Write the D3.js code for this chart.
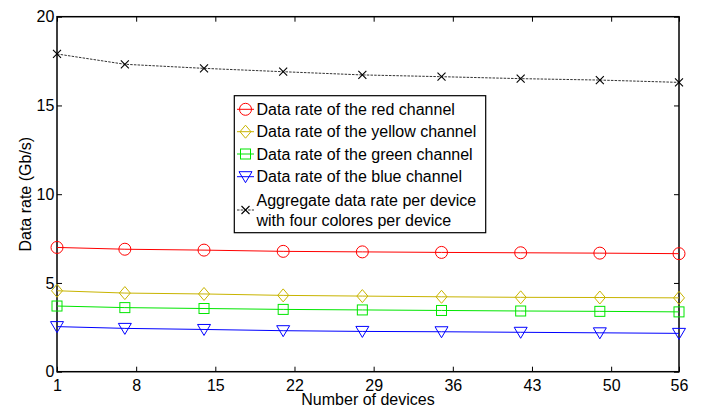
<!DOCTYPE html>
<html><head><meta charset="utf-8">
<script src="https://cdn.jsdelivr.net/npm/d3@7"></script>
<style>body{margin:0;background:#fff}svg{display:block}text{font-family:"Liberation Sans",Arial,sans-serif}</style>
</head><body><svg id="c" width="702" height="413"></svg>
<script>
const devices = [1, 7, 14, 21, 28, 35, 42, 49, 56];
const redRate = [7.0, 6.9, 6.85, 6.78, 6.75, 6.72, 6.7, 6.68, 6.65];
const yellowRate = [4.56, 4.43, 4.38, 4.3, 4.26, 4.22, 4.19, 4.18, 4.16];
const greenRate = [3.70, 3.61, 3.56, 3.51, 3.48, 3.45, 3.42, 3.40, 3.37];
const blueRate = [2.54, 2.44, 2.38, 2.31, 2.27, 2.25, 2.22, 2.19, 2.16];
const aggregateRate = [17.9, 17.32, 17.09, 16.9, 16.72, 16.62, 16.51, 16.43, 16.3];
const xTicks = [1, 8, 15, 22, 29, 36, 43, 50, 56];
const yTicks = [0, 5, 10, 15, 20];
const legendLabels = ["Data rate of the red channel", "Data rate of the yellow channel",
  "Data rate of the green channel", "Data rate of the blue channel",
  ["Aggregate data rate per device", "with four colores per device"]];

const svg = d3.select("#c");
const L = 57, R = 679, T = 16.7, B = 371.7;
const x = d3.scaleLinear().domain([1, 56]).range([L, R]);
const y = d3.scaleLinear().domain([0, 20]).range([B, T]);

const series = [
  {vals: redRate, color: "#ff0000", marker: "circle"},
  {vals: yellowRate, color: "#c8b400", marker: "diamond"},
  {vals: greenRate, color: "#00e600", marker: "square"},
  {vals: blueRate, color: "#0000ff", marker: "triangle"},
  {vals: aggregateRate, color: "#000000", marker: "x", dash: "2.5,1.2"}
];

function drawMarker(g, type, cx, cy, color) {
  if (type === "circle") g.append("circle").attr("cx", cx).attr("cy", cy).attr("r", 6).attr("fill", "none").attr("stroke", color).attr("stroke-width", 1);
  else if (type === "diamond") g.append("path").attr("d", `M${cx},${cy-6.5}L${cx+5.5},${cy}L${cx},${cy+6.5}L${cx-5.5},${cy}Z`).attr("fill", "none").attr("stroke", color);
  else if (type === "square") g.append("rect").attr("x", cx-5).attr("y", cy-5).attr("width", 10).attr("height", 10).attr("fill", "none").attr("stroke", color);
  else if (type === "triangle") g.append("path").attr("d", `M${cx-6.5},${cy-5}L${cx+6.5},${cy-5}L${cx},${cy+6}Z`).attr("fill", "none").attr("stroke", color);
  else if (type === "x") g.append("path").attr("d", `M${cx-4},${cy-4}L${cx+4},${cy+4}M${cx-4},${cy+4}L${cx+4},${cy-4}`).attr("fill", "none").attr("stroke", "#000").attr("stroke-width", 1.1);
}

// axes (inward ticks, box)
const fs = "16px";
const gx = svg.append("g").attr("transform", `translate(0,${B})`).call(d3.axisBottom(x).tickValues(xTicks).tickSizeInner(-5).tickSizeOuter(0).tickPadding(8));
const gxTop = svg.append("g").attr("transform", `translate(0,${T})`).call(d3.axisTop(x).tickValues(xTicks).tickSizeInner(-5).tickSizeOuter(0).tickFormat(""));
const gy = svg.append("g").attr("transform", `translate(${L},0)`).call(d3.axisLeft(y).tickValues(yTicks).tickSizeInner(-5).tickSizeOuter(0).tickPadding(5));
const gyR = svg.append("g").attr("transform", `translate(${R},0)`).call(d3.axisRight(y).tickValues(yTicks).tickSizeInner(-5).tickSizeOuter(0).tickFormat(""));
[gx, gxTop, gy, gyR].forEach(g => {
  g.select(".domain").remove();
  g.selectAll("line").attr("stroke", "#000").attr("stroke-width", 1);
  g.selectAll("text").attr("font-size", fs).attr("fill", "#000").attr("font-family", "Liberation Sans, Arial, sans-serif");
});
gy.selectAll("text").attr("dx", "0.15em");

svg.append("rect").attr("x", L).attr("y", T).attr("width", R-L).attr("height", B-T).attr("fill", "none").attr("stroke", "#000").attr("stroke-width", 1.5);

// lines
const line = d3.line().x((d, i) => x(devices[i])).y(d => y(d));
series.forEach(s => {
  svg.append("path").datum(s.vals).attr("d", line).attr("fill", "none")
    .attr("stroke", s.dash ? "#333" : s.color).attr("stroke-width", 1)
    .attr("stroke-dasharray", s.dash || null);
  const g = svg.append("g");
  s.vals.forEach((v, i) => drawMarker(g, s.marker, x(devices[i]), y(v), s.color));
});

// axis labels
svg.append("text").attr("x", (L+R)/2).attr("y", 405).attr("text-anchor", "middle").attr("font-size", fs).text("Number of devices");
svg.append("text").attr("transform", `translate(31,${(T+B)/2}) rotate(-90)`).attr("text-anchor", "middle").attr("font-size", fs).text("Data rate (Gb/s)");

// legend
const lg = svg.append("g");
lg.append("rect").attr("x", 234.3).attr("y", 95.7).attr("width", 251.4).attr("height", 137).attr("fill", "#fff").attr("stroke", "#000").attr("stroke-width", 1.2);
const rowY = [109.3, 131.7, 154, 176.7, 210];
series.forEach((s, i) => {
  const cy = rowY[i];
  lg.append("line").attr("x1", 237).attr("x2", 254).attr("y1", cy).attr("y2", cy)
    .attr("stroke", s.dash ? "#333" : s.color).attr("stroke-dasharray", s.dash || null);
  drawMarker(lg, s.marker, 245.5, cy, s.color);
  const lab = legendLabels[i];
  if (Array.isArray(lab)) {
    lg.append("text").attr("x", 256.5).attr("y", cy - 10 + 5.5).attr("font-size", fs).text(lab[0]);
    lg.append("text").attr("x", 256.5).attr("y", cy + 10 + 5.5).attr("font-size", fs).text(lab[1]);
  } else {
    lg.append("text").attr("x", 256.5).attr("y", cy + 5.5).attr("font-size", fs).text(lab);
  }
});
</script></body></html>
